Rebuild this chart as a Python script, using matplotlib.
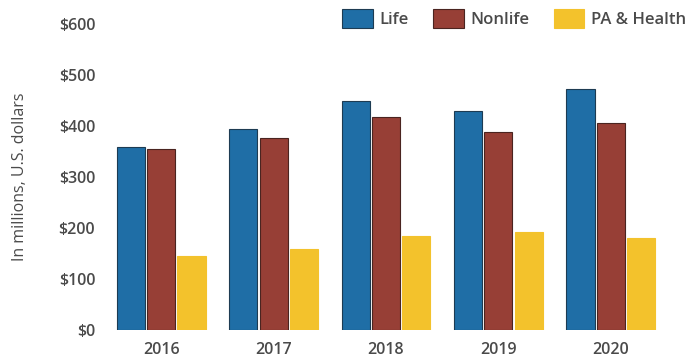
import matplotlib
matplotlib.use("Agg")
import matplotlib.pyplot as plt
import numpy as np

years = ["2016", "2017", "2018", "2019", "2020"]
life = [358, 395, 450, 429, 472]
nonlife = [354, 376, 417, 388, 405]
pa_health = [145, 158, 184, 192, 180]
series_names = ["Life", "Nonlife", "PA & Health"]
yticks = [0, 100, 200, 300, 400, 500, 600]
ytick_labels = ["$0", "$100", "$200", "$300", "$400", "$500", "$600"]

colors = ["#1f6ea6", "#973f36", "#f3c22c"]
edges = ["#1d3b52", "#4a2420", "#f3c22c"]
text_color = "#4a4a4a"

plt.rcParams['font.family'] = ['Open Sans', 'DejaVu Sans']
plt.rcParams['font.weight'] = 'semibold'

fig = plt.figure(figsize=(6.89, 3.61), dpi=100)
ax = fig.add_axes([105/689, 1 - 330/361, (667-105)/689, (330-24)/361])

x = np.arange(len(years))
w = 0.25
gap = 0.02
for i, (vals, name) in enumerate(zip([life, nonlife, pa_health], series_names)):
    ax.bar(x + (i - 1) * (w + gap), vals, width=w, color=colors[i],
           edgecolor=edges[i], linewidth=0.8, label=name)

ax.set_xlim(-0.5, len(years) - 0.5)
ax.set_ylim(0, 600)
ax.set_yticks(yticks)
ax.set_yticklabels(ytick_labels)
ax.set_xticks(x)
ax.set_xticklabels(years)
ax.tick_params(axis='both', length=0, colors=text_color, labelsize=11.5)
ax.tick_params(axis='y', pad=7)
ax.tick_params(axis='x', pad=9)
for s in ax.spines.values():
    s.set_visible(False)
ax.set_ylabel("In millions, U.S. dollars", color=text_color, fontsize=11.5, labelpad=22)

ax.legend(loc='upper left', bbox_to_anchor=(342/689, 1 - 9/361),
          bbox_transform=fig.transFigure, frameon=False, ncol=3,
          prop={'size': 12, 'weight': 'semibold'},
          handlelength=1.85, handleheight=1.35,
          handletextpad=0.4, columnspacing=1.45, borderpad=0, borderaxespad=0,
          labelcolor=text_color)

fig.savefig("out.png", dpi=100)
